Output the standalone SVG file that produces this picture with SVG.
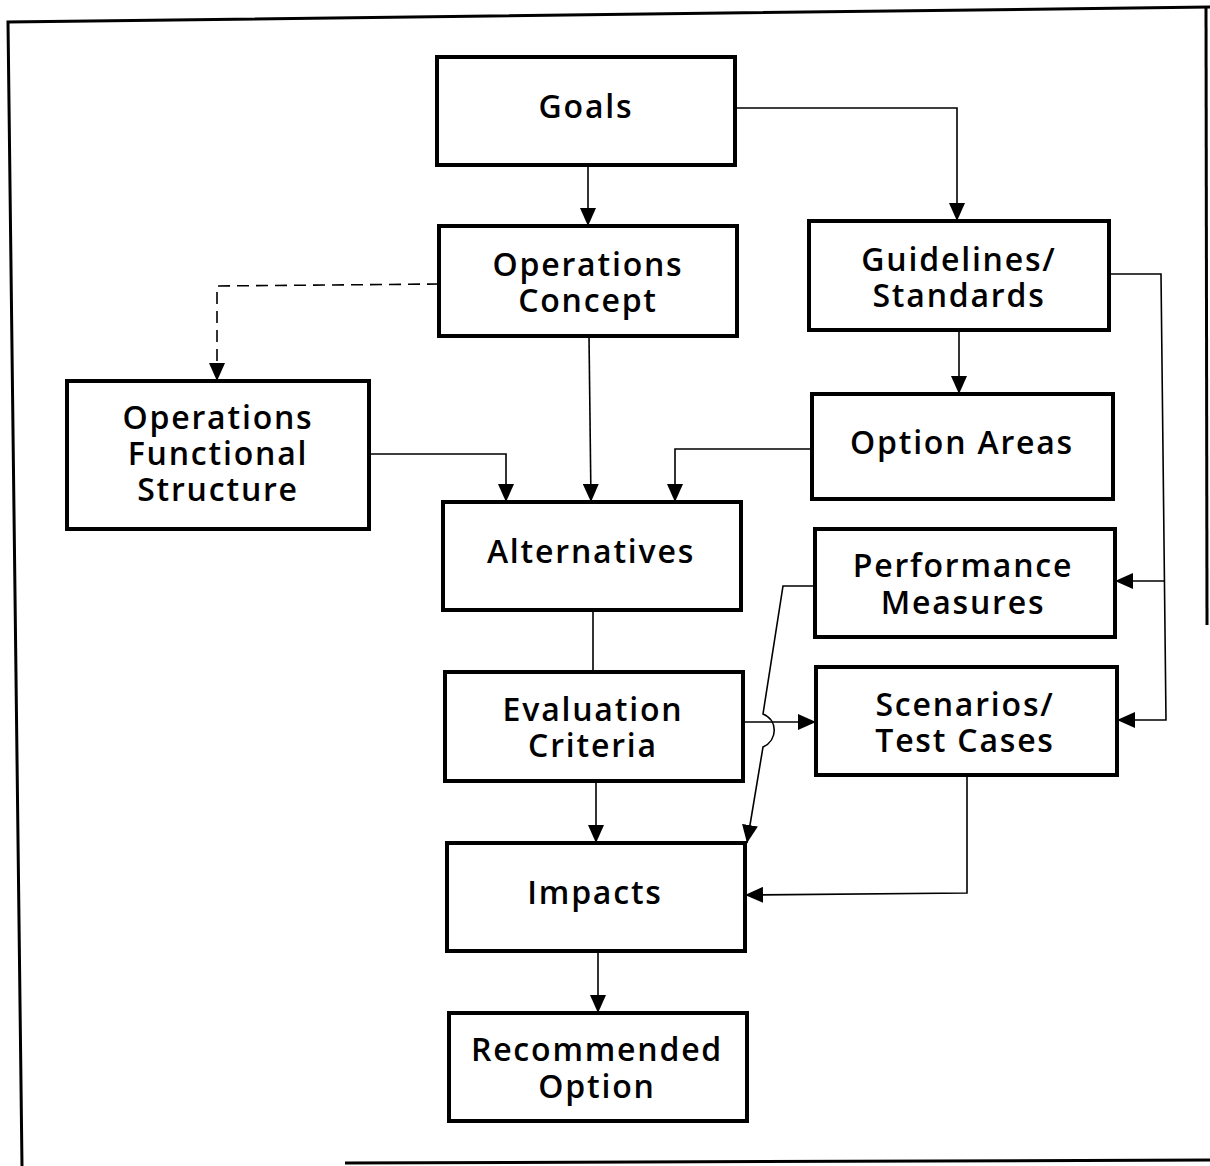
<svg xmlns="http://www.w3.org/2000/svg" width="1210" height="1166" viewBox="0 0 1210 1166">
  <defs>
    <style>
      .box { fill: #fff; stroke: #000; stroke-width: 4; }
      .lbl { font-family: "Open Sans", "Noto Sans", "DejaVu Sans", sans-serif; font-size: 32px; font-weight: 600; letter-spacing: 1.8px; text-anchor: middle; fill: #000; }
      .wire { fill: none; stroke: #000; stroke-width: 1.6; }
      .dash { stroke-dasharray: 12 7; }
      .frame { fill: none; stroke: #000; stroke-width: 3; }
    </style>
    <marker id="head" viewBox="0 0 18 16" refX="18" refY="8" markerWidth="18" markerHeight="16" markerUnits="userSpaceOnUse" orient="auto">
      <path d="M0,0 L18,8 L0,16 Z" fill="#000"/>
    </marker>
  </defs>
  <rect width="1210" height="1166" fill="#fff"/>

  <!-- page frame -->
  <g id="frame">
    <polyline class="frame" points="22,1166 8,22 1210,7"/>
    <line class="frame" x1="1206" y1="8" x2="1207" y2="625" stroke-width="2.5"/>
    <line class="frame" x1="345" y1="1163" x2="1210" y2="1160"/>
  </g>

  <!-- connectors -->
  <g id="connectors">
    <path class="wire" d="M588,165 V226" marker-end="url(#head)"/>
    <path class="wire" d="M735,108 H957 V221" marker-end="url(#head)"/>
    <path class="wire dash" d="M439,284 L217,286 V381" marker-end="url(#head)"/>
    <path class="wire" d="M589,336 L591,502" marker-end="url(#head)"/>
    <path class="wire" d="M369,454 H506 V502" marker-end="url(#head)"/>
    <path class="wire" d="M812,449 H675 V502" marker-end="url(#head)"/>
    <path class="wire" d="M959,330 V394" marker-end="url(#head)"/>
    <path class="wire" d="M1109,274 H1161 L1166,720 H1117" marker-end="url(#head)"/>
    <path class="wire" d="M1164,581 H1115" marker-end="url(#head)"/>
    <path class="wire" d="M593,610 V672"/>
    <path class="wire" d="M743,722 H816" marker-end="url(#head)"/>
    <path class="wire" d="M815,586 H783 L763,714 C778,720 778,740 763,747 L747,843" marker-end="url(#head)"/>
    <path class="wire" d="M596,781 V843" marker-end="url(#head)"/>
    <path class="wire" d="M967,775 V893 L745,895" marker-end="url(#head)"/>
    <path class="wire" d="M598,951 V1013" marker-end="url(#head)"/>
  </g>

  <!-- nodes -->
  <g id="goals">
    <rect class="box" x="437" y="57" width="298" height="108"/>
    <text class="lbl" x="586" y="118">Goals</text>
  </g>
  <g id="operations-concept">
    <rect class="box" x="439" y="226" width="298" height="110"/>
    <text class="lbl" x="588" y="276">Operations</text>
    <text class="lbl" x="588" y="312">Concept</text>
  </g>
  <g id="guidelines-standards">
    <rect class="box" x="809" y="221" width="300" height="109"/>
    <text class="lbl" x="959" y="271">Guidelines/</text>
    <text class="lbl" x="959" y="307">Standards</text>
  </g>
  <g id="operations-functional-structure">
    <rect class="box" x="67" y="381" width="302" height="148"/>
    <text class="lbl" x="218" y="429">Operations</text>
    <text class="lbl" x="218" y="465">Functional</text>
    <text class="lbl" x="218" y="501">Structure</text>
  </g>
  <g id="option-areas">
    <rect class="box" x="812" y="394" width="301" height="105"/>
    <text class="lbl" x="962" y="454">Option Areas</text>
  </g>
  <g id="alternatives">
    <rect class="box" x="443" y="502" width="298" height="108"/>
    <text class="lbl" x="591" y="563">Alternatives</text>
  </g>
  <g id="performance-measures">
    <rect class="box" x="815" y="529" width="300" height="108"/>
    <text class="lbl" x="963" y="577">Performance</text>
    <text class="lbl" x="963" y="614">Measures</text>
  </g>
  <g id="evaluation-criteria">
    <rect class="box" x="445" y="672" width="298" height="109"/>
    <text class="lbl" x="593" y="721">Evaluation</text>
    <text class="lbl" x="593" y="757">Criteria</text>
  </g>
  <g id="scenarios-test-cases">
    <rect class="box" x="816" y="667" width="301" height="108"/>
    <text class="lbl" x="965" y="716">Scenarios/</text>
    <text class="lbl" x="965" y="752">Test Cases</text>
  </g>
  <g id="impacts">
    <rect class="box" x="447" y="843" width="298" height="108"/>
    <text class="lbl" x="595" y="904">Impacts</text>
  </g>
  <g id="recommended-option">
    <rect class="box" x="449" y="1013" width="298" height="108"/>
    <text class="lbl" x="597" y="1061">Recommended</text>
    <text class="lbl" x="597" y="1098">Option</text>
  </g>
</svg>
